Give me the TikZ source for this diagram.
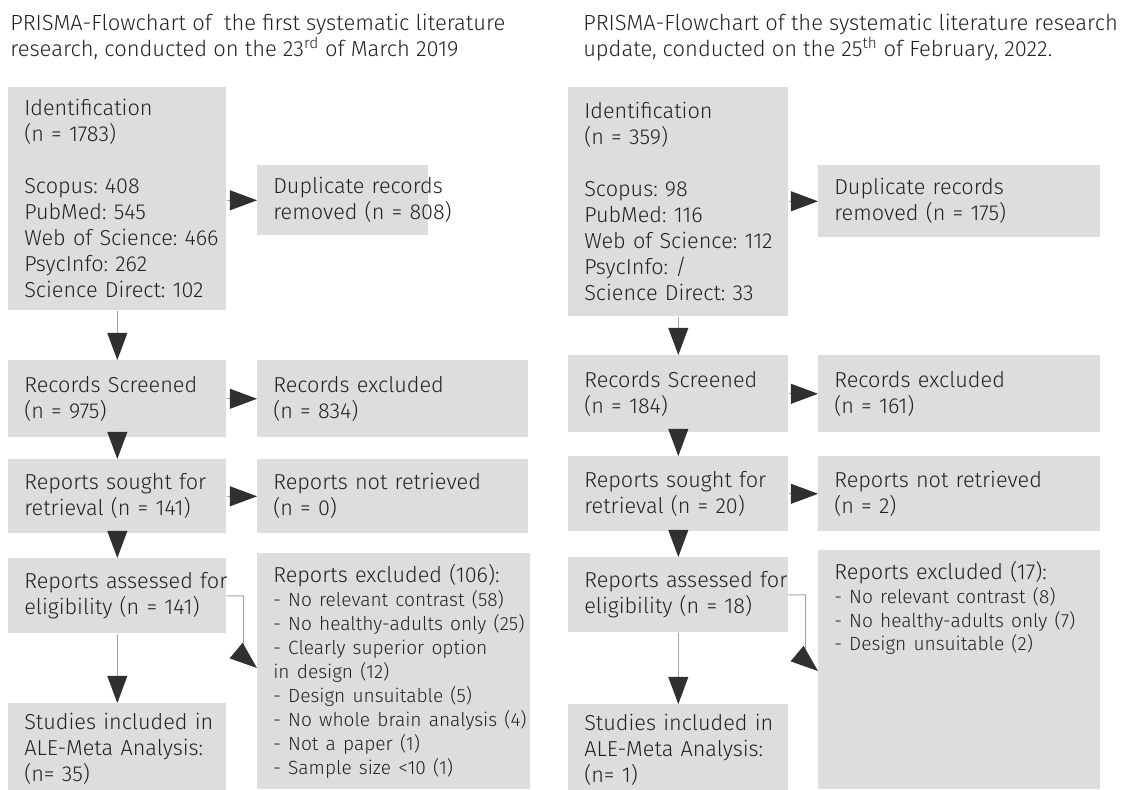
\documentclass[tikz,border=0pt]{standalone}
\usepackage{fontspec}
\setmainfont{Fira Sans Light}
\usetikzlibrary{arrows.meta, calc}

\definecolor{boxgray}{RGB}{221,221,221}
\definecolor{inkgray}{RGB}{34,34,34}
\definecolor{headgray}{RGB}{48,48,48}
\definecolor{linegray}{RGB}{165,165,165}

\newcommand{\itemsize}{\fontsize{13.6}{17}\selectfont}

\begin{document}
\frenchspacing
\begin{tikzpicture}[x=0.025cm, y=-0.025cm,
    box/.style={fill=boxgray, anchor=north west, inner sep=0pt, text=inkgray,
                text width=#1, minimum width=#1,
                font=\fontsize{15.4}{18.5}\selectfont,
                execute at begin node={\frenchspacing\leftskip=0.4cm\rightskip=-1cm plus 1fil}},
    listfont/.style={font=\fontsize{15.4}{17}\selectfont},
    title/.style={anchor=north west, align=left, inner sep=0pt, text=inkgray,
                  font=\fontsize{15.6}{18}\selectfont},
    arr/.style={draw=linegray, line width=0.7pt,
                -{Triangle[length=0.68cm, width=0.5cm, color=headgray]}}
  ]
  \useasboundingbox (0,0) rectangle (1128,789);

  % Titles
  \node[title] (title1) at (10,14) {PRISMA-Flowchart of~ the first systematic literature\\research, conducted on the 23\textsuperscript{rd} of March 2019};
  \node[title] (title2) at (583,14) {PRISMA-Flowchart of the systematic literature research\\update, conducted on the 25\textsuperscript{th} of February, 2022.};

  % First search (2019)
  \node[box=5.45cm, minimum height=5.575cm] (ident1) at (8,87) {Identification\\(n = 1783)\\[18.5pt]Scopus: 408\\PubMed: 545\\Web of Science: 466\\PsycInfo: 262\\Science Direct: 102};
  \node[box=4.275cm, minimum height=1.75cm] (dup1) at (257,165) {Duplicate records\\removed (n = 808)};
  \node[box=5.45cm, minimum height=1.925cm] (scr1) at (8,360) {Records Screened\\(n = 975)};
  \node[box=6.775cm, minimum height=1.925cm] (rex1) at (257,360) {Records excluded\\(n = 834)};
  \node[box=5.45cm, minimum height=1.85cm] (sou1) at (8,459) {Reports sought for\\retrieval (n = 141)};
  \node[box=6.775cm, minimum height=1.85cm] (nret1) at (257,459) {Reports not retrieved\\(n = 0)};
  \node[box=5.45cm, minimum height=1.875cm] (ass1) at (8,558) {Reports assessed for\\eligibility (n = 141)};
  \node[box=6.825cm, minimum height=5.9cm, listfont] (exc1) at (257,553) {Reports excluded (106):\\\itemsize - No relevant contrast (58)\\- No healthy-adults only (25)\\- Clearly superior option\\in design (12)\\- Design unsuitable (5)\\- No whole brain analysis (4)\\- Not a paper (1)\\- Sample size <10 (1)};
  \node[box=5.45cm, minimum height=2.3cm] (inc1) at (8,703) {Studies included in\\ALE-Meta Analysis:\\(n= 35)};

  % Update (2022)
  \node[box=5.5cm, minimum height=5.725cm] (ident2) at (568,87) {Identification\\(n = 359)\\[18.5pt]Scopus: 98\\PubMed: 116\\Web of Science: 112\\PsycInfo: /\\Science Direct: 33};
  \node[box=7.05cm, minimum height=1.8cm] (dup2) at (818,165) {Duplicate records\\removed (n = 175)};
  \node[box=5.5cm, minimum height=1.925cm] (scr2) at (568,355) {Records Screened\\(n = 184)};
  \node[box=7.05cm, minimum height=1.925cm] (rex2) at (818,355) {Records excluded\\(n = 161)};
  \node[box=5.5cm, minimum height=1.875cm] (sou2) at (568,456) {Reports sought for\\retrieval (n = 20)};
  \node[box=7.05cm, minimum height=1.875cm] (nret2) at (818,456) {Reports not retrieved\\(n = 2)};
  \node[box=5.5cm, minimum height=1.875cm] (ass2) at (568,557) {Reports assessed for\\eligibility (n = 18)};
  \node[box=7.05cm, minimum height=5.975cm, listfont] (exc2) at (818,550) {Reports excluded (17):\\\itemsize - No relevant contrast (8)\\- No healthy-adults only (7)\\- Design unsuitable (2)\par\vspace*{3.09cm}};
  \node[box=5.5cm, minimum height=2.3cm] (inc2) at (568,704) {Studies included in\\ALE-Meta Analysis:\\(n= 1)};

  % Arrows
  \draw[arr] (ident1.east |- dup1.west) -- (dup1.west);
  \draw[arr] (ident1) -- (scr1);
  \draw[arr] (scr1) -- (rex1);
  \draw[arr] (scr1) -- (sou1);
  \draw[arr] (sou1) -- (nret1);
  \draw[arr] (sou1) -- (ass1);
  \draw[arr] (ass1) -- (inc1);
  \coordinate (exc1in) at ($(exc1.north west)+(0,115)$);
  \draw[arr] (ass1.east) -- ++(17,0) -- ++(0,48) .. controls +(0,10) and +(-12,-10) .. (exc1in);

  \draw[arr] (ident2.east |- dup2.west) -- (dup2.west);
  \draw[arr] (ident2) -- (scr2);
  \draw[arr] (scr2) -- (rex2);
  \draw[arr] (scr2) -- (sou2);
  \draw[arr] (sou2) -- (nret2);
  \draw[arr] (sou2) -- (ass2);
  \draw[arr] (ass2) -- (inc2);
  \coordinate (exc2in) at ($(exc2.north west)+(0,121)$);
  \draw[arr] (ass2.east) -- ++(17,0) -- ++(0,50) .. controls +(0,10) and +(-12,-10) .. (exc2in);

\end{tikzpicture}
\end{document}
